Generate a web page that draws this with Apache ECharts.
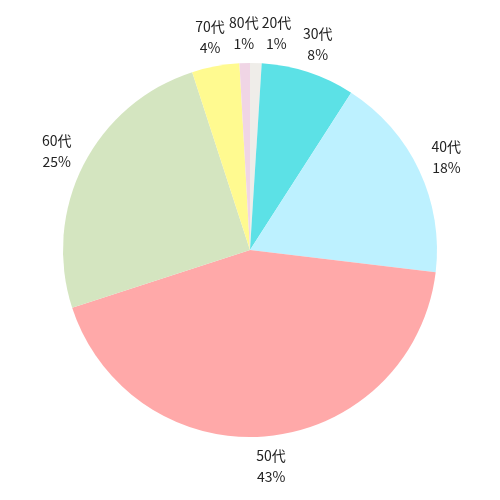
<!DOCTYPE html>
<html>
<head>
<meta charset="utf-8">
<script src="https://cdn.jsdelivr.net/npm/echarts@6/dist/echarts.min.js"></script>
<style>html,body{margin:0;padding:0;background:#fff;}#c{width:500px;height:500px;}</style>
</head>
<body>
<div id="c"></div>
<script>
const categories = ['20代', '30代', '40代', '50代', '60代', '70代', '80代'];
const values = [1.0, 8.1, 17.8, 43.1, 25.0, 4.1, 0.9];
const colors = ['#efede9', '#5ce1e6', '#bdf1ff', '#ffa9a9', '#d4e5c0', '#fffa90', '#f0d5e5'];

const cx = 250, cy = 250, R = 187, labelR = 217;
const FONT_SIZE = 14, LINE_H = 21, FONT = 'Noto Sans CJK JP';
const total = values.reduce((a, b) => a + b, 0);
const labelText = i => [categories[i], Math.round(values[i] / total * 100) + '%'];

// label centers from slice mid-angles (start at top, clockwise)
const ctx = document.createElement('canvas').getContext('2d');
ctx.font = FONT_SIZE + 'px "' + FONT + '"';
let acc = 0;
const labels = values.map((v, i) => {
  const a = (acc + v / 2) / total * Math.PI * 2;
  acc += v;
  const w = Math.max(...labelText(i).map(t => ctx.measureText(t).width));
  return { i, x: cx + labelR * Math.sin(a), y: cy - labelR * Math.cos(a), w, h: LINE_H * 2 };
});
// push overlapping labels apart horizontally
const sorted = labels.slice().sort((p, q) => p.x - q.x);
for (let k = 1; k < sorted.length; k++) {
  for (let j = 0; j < k; j++) {
    const p = sorted[j], q = sorted[k];
    if (Math.abs(p.y - q.y) < (p.h + q.h) / 2 - 10) {
      const minX = p.x + (p.w + q.w) / 2 + 3;
      if (q.x < minX) q.x = minX;
    }
  }
}

const chart = echarts.init(document.getElementById('c'));
chart.setOption({
  animation: false,
  series: [{
    type: 'pie',
    center: [cx, cy],
    radius: R,
    startAngle: 90,
    clockwise: true,
    data: categories.map((c, i) => ({ name: c, value: values[i], itemStyle: { color: colors[i] } })),
    label: {
      show: true,
      position: 'outside',
      formatter: p => labelText(p.dataIndex).join('\n'),
      fontFamily: FONT,
      fontSize: FONT_SIZE,
      lineHeight: LINE_H,
      color: '#222',
      align: 'center',
      overflow: 'none'
    },
    labelLine: { show: false },
    emphasis: { disabled: true },
    labelLayout: function (params) {
      const L = labels[params.dataIndex];
      return { x: L.x, y: L.y, align: 'center', verticalAlign: 'middle' };
    }
  }]
});
</script>
</body>
</html>
